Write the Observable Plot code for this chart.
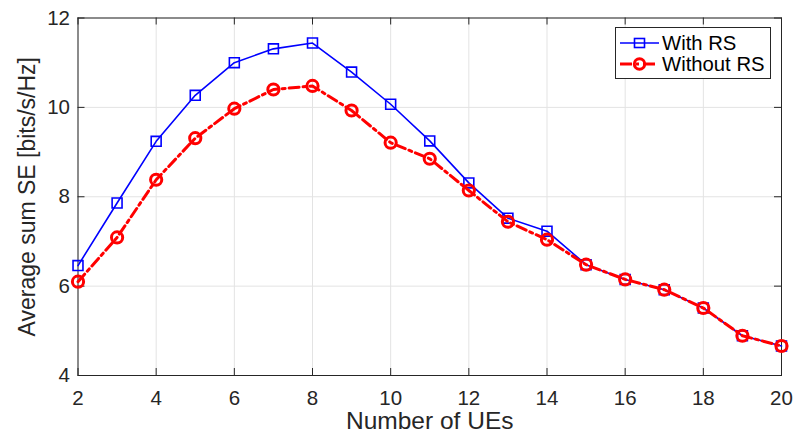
<!DOCTYPE html>
<html>
<head>
<meta charset="utf-8">
<script src="https://cdn.jsdelivr.net/npm/d3@7"></script>
<script src="https://cdn.jsdelivr.net/npm/@observablehq/plot@0.6"></script>
<style>
  body { margin: 0; background: #fff; }
  #wrap { position: relative; width: 797px; height: 436px; font-family: "Liberation Sans", Arial, sans-serif; }
  #legend { position: absolute; left: 615px; top: 27px; width: 156px; height: 52px; background: #fff; border: 1px solid #262626; box-sizing: border-box; }
  #legend .row { position: absolute; left: 3px; height: 22px; display: flex; align-items: center; font-size: 20.3px; color: #000; white-space: nowrap; }
  #legend svg { margin-right: 2px; }
</style>
</head>
<body>
<div id="wrap"></div>
<script>
const ues = [2, 3, 4, 5, 6, 7, 8, 9, 10, 11, 12, 13, 14, 15, 16, 17, 18, 19, 20];
const withRS = [6.46, 7.86, 9.24, 10.27, 11.0, 11.31, 11.44, 10.79, 10.07, 9.25, 8.31, 7.52, 7.23, 6.48, 6.15, 5.92, 5.51, 4.89, 4.66];
const withoutRS = [6.10, 7.09, 8.38, 9.31, 9.97, 10.40, 10.48, 9.93, 9.21, 8.85, 8.14, 7.44, 7.04, 6.48, 6.15, 5.92, 5.51, 4.89, 4.66];
const xTicks = [2, 4, 6, 8, 10, 12, 14, 16, 18, 20];
const yTicks = [4, 6, 8, 10, 12];
const seriesNames = ["With RS", "Without RS"];
const xLabel = "Number of UEs";
const yLabel = "Average sum SE [bits/s/Hz]";

const dataWith = ues.map((u, i) => ({x: u, y: withRS[i]}));
const dataWithout = ues.map((u, i) => ({x: u, y: withoutRS[i]}));

const W = 797, H = 436;
const mL = 77.5, mT = 17.5, mR = 16, mB = 61;
const plotH = H - mT - mB;
const plotW = W - mL - mR;
const tick = 7;
const axisColor = "#262626";
const gridColor = "#e3e3e3";
const blue = "#0000ff", red = "#ff0000";

const chart = Plot.plot({
  width: W, height: H,
  marginLeft: mL, marginTop: mT, marginRight: mR, marginBottom: mB,
  style: {fontFamily: "'Liberation Sans', Arial, sans-serif", background: "#fff"},
  x: {domain: [2, 20]},
  y: {domain: [4, 12]},
  marks: [
    Plot.gridX(xTicks, {stroke: gridColor, strokeOpacity: 1, strokeWidth: 1}),
    Plot.gridY(yTicks, {stroke: gridColor, strokeOpacity: 1, strokeWidth: 1}),
    Plot.ruleX(xTicks, {stroke: axisColor, insetTop: plotH - tick}),
    Plot.ruleX(xTicks, {stroke: axisColor, insetBottom: plotH - tick}),
    Plot.ruleY(yTicks, {stroke: axisColor, insetRight: plotW - tick}),
    Plot.ruleY(yTicks, {stroke: axisColor, insetLeft: plotW - tick}),
    Plot.frame({stroke: axisColor, strokeWidth: 1}),
    Plot.axisX(xTicks, {tickSize: 0, tickPadding: 15, fontSize: 20.5, color: axisColor, label: null}),
    Plot.axisY(yTicks, {tickSize: 0, tickPadding: 8, fontSize: 20.5, color: axisColor, label: null}),
    Plot.text([xLabel], {frameAnchor: "bottom", lineAnchor: "middle", dy: 46, fontSize: 24.5, fill: axisColor}),
    Plot.text([yLabel], {frameAnchor: "left", textAnchor: "middle", lineAnchor: "middle", rotate: -90, dx: -50, fontSize: 23, fill: axisColor}),
    Plot.line(dataWith, {x: "x", y: "y", stroke: blue, strokeWidth: 1.6}),
    Plot.dot(dataWith, {x: "x", y: "y", symbol: "square", r: 5.6, stroke: blue, strokeWidth: 1.6, fill: "none"}),
    Plot.line(dataWithout, {x: "x", y: "y", stroke: red, strokeWidth: 3, strokeDasharray: "10,4,3,4"}),
    Plot.dot(dataWithout, {x: "x", y: "y", symbol: "circle", r: 5.6, stroke: red, strokeWidth: 3, fill: "none"})
  ]
});

const wrap = document.getElementById("wrap");
wrap.appendChild(chart);

const legend = document.createElement("div");
legend.id = "legend";
const items = [
  {name: seriesNames[0], color: blue, width: 1.6, dash: null, symbol: "square"},
  {name: seriesNames[1], color: red, width: 3, dash: "12,4,3,4", symbol: "circle"}
];
items.forEach((it, i) => {
  const row = document.createElement("div");
  row.className = "row";
  row.style.top = (i === 0 ? 4 : 25) + "px";
  const ns = "http://www.w3.org/2000/svg";
  const s = document.createElementNS(ns, "svg");
  s.setAttribute("width", 41); s.setAttribute("height", 22);
  const ln = document.createElementNS(ns, "line");
  ln.setAttribute("x1", 1); ln.setAttribute("x2", 40); ln.setAttribute("y1", 11); ln.setAttribute("y2", 11);
  ln.setAttribute("stroke", it.color); ln.setAttribute("stroke-width", it.width);
  if (it.dash) ln.setAttribute("stroke-dasharray", it.dash);
  s.appendChild(ln);
  let m;
  if (it.symbol === "square") {
    m = document.createElementNS(ns, "rect");
    m.setAttribute("x", 15.5); m.setAttribute("y", 6.5); m.setAttribute("width", 10); m.setAttribute("height", 9);
  } else {
    m = document.createElementNS(ns, "circle");
    m.setAttribute("cx", 20.5); m.setAttribute("cy", 11); m.setAttribute("r", 5.2);
  }
  m.setAttribute("fill", "none"); m.setAttribute("stroke", it.color); m.setAttribute("stroke-width", it.width);
  s.appendChild(m);
  row.appendChild(s);
  const t = document.createElement("span");
  t.textContent = it.name;
  row.appendChild(t);
  legend.appendChild(row);
});
wrap.appendChild(legend);
</script>
</body>
</html>
